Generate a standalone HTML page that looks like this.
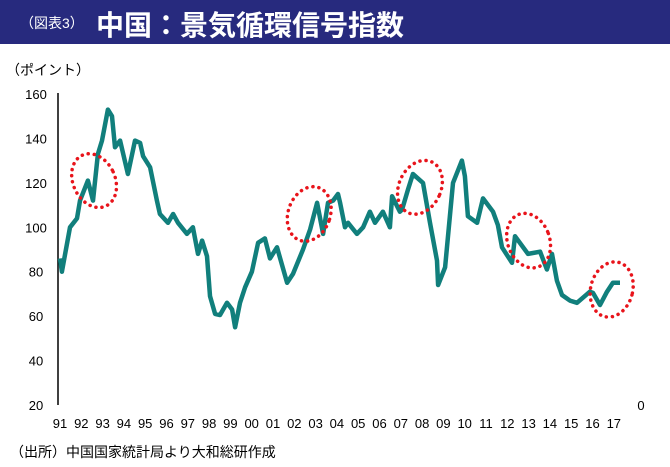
<!DOCTYPE html>
<html><head><meta charset="utf-8">
<style>
body{margin:0;background:#fff;width:670px;height:467px;overflow:hidden;font-family:"Liberation Sans","Noto Sans CJK JP",sans-serif;}
#bar{position:absolute;left:0;top:0;width:670px;height:44px;background:#272a7e;color:#fff;}
#small{position:absolute;left:20px;top:13px;font-size:14px;}
#big{position:absolute;left:96px;top:4px;font-size:28px;font-weight:bold;}
svg{position:absolute;left:0;top:0;}
</style></head><body>
<div id="bar">
<span id="small">（図表3）</span>
<span id="big">中国：景気循環信号指数</span>
</div>
<svg id="chart" width="670" height="467">
<text x="6" y="75" font-size="14">（ポイント）</text>
<text x="10" y="457" font-size="14">（出所）中国国家統計局より大和総研作成</text>
</svg>
<script>
const years=[1991.0,1991.09,1991.47,1991.8,1991.94,1992.31,1992.55,1992.78,1992.97,1993.25,1993.44,1993.58,1993.82,1994.19,1994.52,1994.76,1994.9,1995.23,1995.55,1995.69,1996.07,1996.31,1996.54,1996.96,1997.24,1997.48,1997.67,1997.9,1998.04,1998.28,1998.51,1998.84,1999.08,1999.22,1999.45,1999.69,2000.01,2000.3,2000.62,2000.86,2001.19,2001.66,2001.94,2002.41,2002.74,2003.07,2003.35,2003.58,2003.82,2004.05,2004.15,2004.38,2004.52,2004.94,2005.23,2005.55,2005.79,2006.16,2006.49,2006.59,2006.96,2007.06,2007.34,2007.57,2008.04,2008.37,2008.7,2008.75,2009.08,2009.45,2009.87,2010.01,2010.15,2010.58,2010.86,2011.33,2011.56,2011.75,2012.22,2012.36,2012.97,2013.54,2013.86,2014.1,2014.33,2014.57,2014.94,2015.27,2015.88,2016.02,2016.35,2016.68,2016.96,2017.29,2017.43];
const values=[86,80,100,104,112,121,112,133,139,153,150,136,139,124,139,138,132,127,112,106,102,106,102,97,100,88,94,87,69,61,60.5,66,63,55,66,73,80,93,95,86,91,75,79,90,99,111,97,111,112,115,111,100,102,97,100,107,102,107,100,114,107,108,117,124,120,102,85,74,82,120,130,123,105,102,113,107,101,91,84,96,88,89,81,88,76,69.5,67,66,71,70.5,65,71,75,75];
const yTicks=[20,40,60,80,100,120,140,160];
const xLabels=["91","92","93","94","95","96","97","98","99","00","01","02","03","04","05","06","07","08","09","10","11","12","13","14","15","16","17"];
const circles=[[1992.6,121,-25],[2002.7,106,20],[2007.9,118,25],[2013.0,94,-20],[2016.9,72,15]];
const svg=document.getElementById('chart');
const NS='http://www.w3.org/2000/svg';
const X=t=>60+(t-1991)*21.3;
const Y=v=>405-(v-20)*(311/140);
function mk(tag,attrs){const e=document.createElementNS(NS,tag);for(const k in attrs)e.setAttribute(k,attrs[k]);svg.appendChild(e);return e;}
const ax=mk('line',{x1:58,y1:93,x2:58,y2:405,stroke:'#000','stroke-width':1.5});


yTicks.forEach(v=>{const t=mk('text',{x:36,y:Y(v)+5,'font-size':13,'text-anchor':'middle'});t.textContent=v;

});
xLabels.forEach((l,i)=>{const t=mk('text',{x:X(1991+i),y:428,'font-size':13,'text-anchor':'middle'});t.textContent=l;

});
const z=mk('text',{x:641,y:410,'font-size':13,'text-anchor':'middle'});z.textContent='0';


const d=years.map((t,i)=>(i?'L':'M')+X(t).toFixed(1)+','+Y(values[i]).toFixed(1)).join('');
const p=mk('path',{d:d,fill:'none',stroke:'#117f7c','stroke-width':4.5,'stroke-linejoin':'round'});


circles.forEach(c=>{const cx=X(c[0]),cy=Y(c[1]);const e=mk('ellipse',{cx:cx,cy:cy,rx:21,ry:28,fill:'none',stroke:'#e8141b','stroke-width':3.5,'stroke-dasharray':'0.1 6','stroke-linecap':'round',transform:`rotate(${c[2]} ${cx} ${cy})`});

});
</script>
</body></html>
